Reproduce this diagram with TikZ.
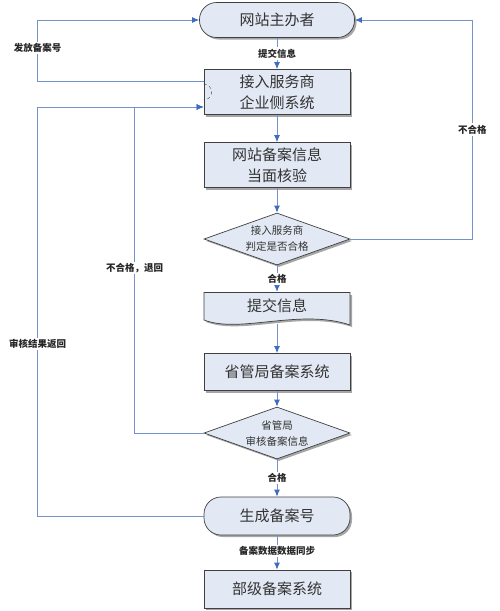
\documentclass[tikz,border=0pt]{standalone}
\usepackage{fontspec}
\newfontfamily\cjk{Noto Sans CJK SC}
\usetikzlibrary{shapes.geometric,shadows,arrows.meta,backgrounds}
\definecolor{linkblue}{RGB}{118,146,204}
\definecolor{tipblue}{RGB}{62,108,192}
\definecolor{boxfill}{RGB}{226,233,244}
\definecolor{boxline}{RGB}{64,64,64}

\begin{document}
\begin{tikzpicture}[x=1pt, y=-1pt,
    every node/.style={font=\cjk, text=black!80},
    box/.style={draw=boxline, line width=0.7pt, fill=boxfill, minimum width=146pt, minimum height=45pt,
        align=center, inner sep=2pt, font=\cjk\fontsize{15}{21}\selectfont,
        drop shadow={shadow xshift=2pt, shadow yshift=-2pt, fill=gray!70, opacity=1}},
    term/.style={box, rounded corners=17pt, minimum height=36pt},
    check/.style={diamond, aspect=2.8, draw=boxline, line width=0.7pt, fill=boxfill, minimum width=146pt, minimum height=52pt,
        inner sep=0pt, align=center, font=\cjk\fontsize{10.5}{16}\selectfont,
        drop shadow={shadow xshift=2pt, shadow yshift=-2pt, fill=gray!70, opacity=1}},
    lbl/.style={fill=white, inner sep=1.5pt, font=\cjk\bfseries\fontsize{9.5}{11}\selectfont, text=black!85},
    flow/.style={draw=linkblue, line width=0.9pt, -{Latex[length=7pt,width=6pt,color=tipblue]}}]

    \useasboundingbox (0,0) rectangle (500,611);

    \node[term, minimum width=155pt, minimum height=35pt] (host) at (277, 20) {网站主办者};
    \node[box] (access) at (277, 92) {接入服务商\\企业侧系统};
    \node[box] (verify) at (277, 165) {网站备案信息\\当面核验};
    \node[check] (check1) at (277, 239) {接入服务商\\判定是否合格};
    \node[minimum width=146pt, minimum height=28pt, font=\cjk\fontsize{15}{21}\selectfont] (submit) at (277, 306) {提交信息};
    \node[box, minimum height=37pt] (prov) at (277, 372) {省管局备案系统};
    \node[check] (check2) at (277, 433) {省管局\\审核备案信息};
    \node[term, minimum height=38pt] (gen) at (277, 516) {生成备案号};
    \node[box, minimum height=38pt] (mii) at (277, 589) {部级备案系统};

    % document shape behind the text
    \begin{scope}[on background layer]
        \fill[gray!70] (206,295) -- (352,295) -- (352,327)
            .. controls (302,310) and (242,336) .. (206,322) -- cycle;
        \draw[boxline, line width=0.7pt, fill=boxfill] (204,292.5) -- (350,292.5) -- (350,325)
            .. controls (300,308) and (240,334) .. (204,320) -- cycle;
    \end{scope}
    \draw[boxline, dashed] ([yshift=8pt]access.west) arc (90:-90:8pt);

    % main line
    \draw[flow] (host) -- node[lbl] {提交信息} (access);
    \draw[flow] (access) -- (verify);
    \draw[flow] (verify) -- (check1);
    \draw[flow] (check1) -- node[lbl] {合格} (submit.north);
    \draw[flow] (submit.south |- 0,324) -- (prov);
    \draw[flow] (prov) -- (check2);
    \draw[flow] (check2) -- node[lbl] {合格} (gen);
    \draw[flow] (gen) -- node[lbl, pos=0.45] {备案数据数据同步} (mii);

    % loops back
    \draw[flow] ([yshift=11pt]access.west) -- ++(-166,0) |- node[lbl, pos=0.27] {发放备案号} (host.west);
    \draw[flow] (check1.east) -- ++(122,0) |- node[lbl, pos=0.25] {不合格} (host.east);
    \draw[flow] (gen.west) -- ++(-166,0) |- node[lbl, pos=0.21] {审核结果返回} ([yshift=-15pt]access.west);
    \draw[flow] (check2.west) -- ++(-69,0) |- node[lbl, pos=0.253] {不合格，退回} ([yshift=-15pt]access.west);
\end{tikzpicture}
\end{document}
